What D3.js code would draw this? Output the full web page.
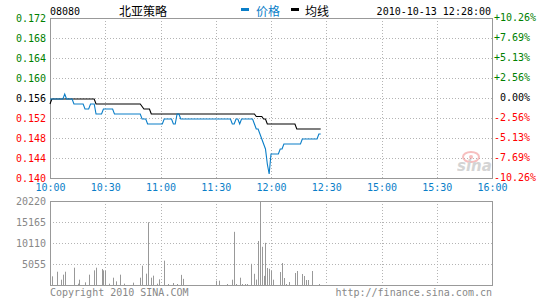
<!DOCTYPE html>
<html>
<head>
<meta charset="utf-8">
<script src="https://cdn.jsdelivr.net/npm/d3@7"></script>
<style>
  body { margin: 0; background: #fff; }
  text { font-family: "DejaVu Sans Mono", "Liberation Mono", monospace; font-size: 10px; }
  .cjk { font-family: "Noto Sans CJK SC", sans-serif; font-size: 12px; }
</style>
</head>
<body>
<div id="chart"></div>
<script>
const prevClose = 0.156;
const priceTicks = [0.172, 0.168, 0.164, 0.160, 0.156, 0.152, 0.148, 0.144, 0.140];
const pctLabels = ['+10.26%', '+7.69%', '+5.13%', '+2.56%', '\u00a00.00%', '-2.56%', '-5.13%', '-7.69%', '-10.26%'];
const timeTicks = [0, 30, 60, 90, 120, 150, 180, 210, 240];
const timeLabels = ['10:00', '10:30', '11:00', '11:30', '12:00', '12:30', '15:00', '15:30', '16:00'];
const volTicks = [5055, 10110, 15165, 20220];

// [first minute, last minute, price] (minutes from 10:00)
const priceRuns = [
    [0, 7, 0.156], [8, 8, 0.157], [9, 12, 0.156], [13, 18, 0.155], [19, 21, 0.154],
    [22, 24, 0.155], [25, 28, 0.153], [29, 34, 0.154], [35, 49, 0.153], [50, 52, 0.152],
    [53, 61, 0.151], [62, 66, 0.152], [67, 68, 0.151], [69, 70, 0.153], [71, 98, 0.152],
    [99, 100, 0.151], [101, 102, 0.152], [103, 103, 0.151], [104, 110, 0.152], [111, 111, 0.151],
    [112, 113, 0.150], [114, 114, 0.149], [115, 115, 0.148], [116, 116, 0.147], [117, 117, 0.146],
    [118, 118, 0.143], [119, 119, 0.141], [120, 124, 0.145], [125, 126, 0.146], [127, 136, 0.147],
    [137, 145, 0.148], [146, 147, 0.149]
];

// average price line
const avgRuns = [
    [0, 0, 0.155], [1, 24, 0.156], [25, 49, 0.155], [50, 50, 0.1545], [51, 54, 0.154],
    [55, 111, 0.153], [112, 115, 0.1525], [116, 117, 0.152], [118, 133, 0.151], [134, 147, 0.150]
];

// [minute, volume]
const volumes = [
    [1, 2090], [4, 3200], [6, 1280], [7, 2490], [8, 3200], [13, 4170], [15, 320], [16, 1280],
    [19, 640], [21, 2490], [24, 3530], [25, 4170], [28, 3850], [29, 3530], [30, 3370], [32, 320],
    [34, 1760], [36, 880], [38, 2490], [40, 320], [45, 560], [49, 1760], [50, 4650], [52, 2730],
    [53, 15100], [55, 1760], [56, 2250], [58, 320], [59, 1360], [62, 5860], [64, 240], [67, 480],
    [69, 240], [71, 2440], [72, 1480], [90, 1040], [92, 1040], [96, 240], [99, 1280], [100, 12800],
    [101, 240], [103, 1760], [104, 240], [106, 240], [107, 240], [109, 5100], [111, 2700], [112, 1300],
    [113, 10600], [114, 20220], [115, 9200], [116, 2200], [117, 10150], [118, 4100], [119, 3900],
    [120, 3400], [121, 1280], [125, 3130], [126, 5290], [127, 1680], [128, 240], [130, 720],
    [133, 2890], [134, 3370], [137, 2650], [138, 2170], [139, 1200], [140, 1200], [142, 3370], [146, 240]
];

const width = 545, height = 300;
const left = 50, right = 492;
const blue = '#0a7ec8', gray = '#999', gridColor = '#b4b4b4';

const svg = d3.select('#chart').append('svg')
    .attr('width', width)
    .attr('height', height);

const x = d3.scaleLinear().domain([0, 240]).range([left, right]);
const y = d3.scaleLinear().domain([0.140, 0.172]).range([178, 18]);
const yv = d3.scaleLinear().domain([0, 20220]).range([285, 201]);

const labelColor = (p) => p > prevClose + 1e-9 ? '#008000' : (p < prevClose - 1e-9 ? '#ff0000' : '#000');

// grid lines
function grid(yScale, yVals, top, bottom) {
    svg.append('g').selectAll('line.h').data(yVals).join('line')
        .attr('x1', left).attr('x2', right)
        .attr('y1', d => Math.round(yScale(d)) + 0.5).attr('y2', d => Math.round(yScale(d)) + 0.5)
        .attr('stroke', gridColor).attr('stroke-dasharray', '1,2');
    svg.append('g').selectAll('line.v').data(timeTicks.slice(1, -1)).join('line')
        .attr('x1', d => Math.round(x(d)) + 0.5).attr('x2', d => Math.round(x(d)) + 0.5)
        .attr('y1', top).attr('y2', bottom)
        .attr('stroke', gridColor).attr('stroke-dasharray', '1,2');
}
grid(y, priceTicks.slice(1, -1), 18, 178);
grid(yv, volTicks.slice(0, -1), 201, 285);

// frames
svg.append('rect').attr('x', left + 0.5).attr('y', 18.5).attr('width', right - left).attr('height', 160)
    .attr('fill', 'none').attr('stroke', gray);
svg.append('rect').attr('x', left + 0.5).attr('y', 201.5).attr('width', right - left).attr('height', 84)
    .attr('fill', 'none').attr('stroke', gray);

// axes labels
const leftAxis = svg.append('g').attr('transform', `translate(${left - 4},0)`)
    .call(d3.axisLeft(y).tickValues(priceTicks).tickSize(0).tickPadding(0).tickFormat(d3.format('.3f')));
leftAxis.select('.domain').remove();
leftAxis.selectAll('text').attr('fill', d => labelColor(d)).attr('font-size', 10).attr('font-family', null);

const pctScale = d3.scalePoint().domain(pctLabels).range([17.5, 177.5]);
const rightAxis = svg.append('g').attr('transform', `translate(${right + 2},0)`)
    .call(d3.axisRight(pctScale).tickSize(0).tickPadding(0));
rightAxis.select('.domain').remove();
rightAxis.selectAll('text').attr('fill', (d, i) => labelColor(priceTicks[i])).attr('font-size', 10).attr('font-family', null);

const timeAxis = svg.append('g').attr('transform', 'translate(0,184)')
    .call(d3.axisBottom(x).tickValues(timeTicks).tickSize(0).tickPadding(0).tickFormat((d, i) => timeLabels[i]));
timeAxis.select('.domain').remove();
timeAxis.selectAll('text').attr('fill', blue).attr('font-size', 10).attr('font-family', null);

const volAxis = svg.append('g').attr('transform', `translate(${left - 4},0)`)
    .call(d3.axisLeft(yv).tickValues(volTicks).tickSize(0).tickPadding(0).tickFormat(d3.format('d')));
volAxis.select('.domain').remove();
volAxis.selectAll('text').attr('fill', '#888').attr('font-size', 10).attr('font-family', null);

// watermark
const wm = svg.append('g').attr('opacity', 0.5);
wm.append('ellipse').attr('cx', 471).attr('cy', 157).attr('rx', 8).attr('ry', 5)
    .attr('fill', 'none').attr('stroke', '#f08080').attr('stroke-width', 2);
wm.append('circle').attr('cx', 471).attr('cy', 157).attr('r', 2).attr('fill', '#f08080');
wm.append('text').attr('x', 457).attr('y', 171)
    .style('font-family', 'Verdana, "DejaVu Sans", sans-serif').style('font-size', '15px')
    .style('font-style', 'italic').style('font-weight', 'bold').attr('fill', '#aaa').text('sina');

// volume bars
svg.append('g').selectAll('rect').data(volumes).join('rect')
    .attr('x', d => Math.round(x(d[0])))
    .attr('y', d => yv(d[1]))
    .attr('width', 1)
    .attr('height', d => yv(0) - yv(d[1]))
    .attr('fill', gray);

// price and average lines
const runPoints = runs => runs.flatMap(([a, b, p]) => a === b ? [[a, p]] : [[a, p], [b, p]]);
const line = d3.line().x(d => x(d[0])).y(d => y(d[1]) + 1);

svg.append('path').datum(runPoints(avgRuns)).attr('d', line)
    .attr('fill', 'none').attr('stroke', '#000').attr('stroke-width', 1.1);
svg.append('path').datum(runPoints(priceRuns)).attr('d', line)
    .attr('fill', 'none').attr('stroke', blue).attr('stroke-width', 1.1);

// header
svg.append('text').attr('x', 50).attr('y', 15).text('08080');
svg.append('text').attr('class', 'cjk').attr('x', 119).attr('y', 16).text('北亚策略');
svg.append('rect').attr('x', 241).attr('y', 8).attr('width', 8).attr('height', 3).attr('fill', blue);
svg.append('text').attr('class', 'cjk').attr('x', 256).attr('y', 16).attr('fill', blue).text('价格');
svg.append('rect').attr('x', 291).attr('y', 8).attr('width', 8).attr('height', 3).attr('fill', '#000');
svg.append('text').attr('class', 'cjk').attr('x', 305).attr('y', 16).text('均线');
svg.append('text').attr('x', 491).attr('y', 15).attr('text-anchor', 'end').text('2010-10-13 12:28:00');

// footer
svg.append('text').attr('x', 50).attr('y', 296).attr('fill', '#888').text('Copyright 2010 SINA.COM');
svg.append('text').attr('x', 492).attr('y', 296).attr('text-anchor', 'end').attr('fill', '#888').text('http://finance.sina.com.cn');
</script>
</body>
</html>
